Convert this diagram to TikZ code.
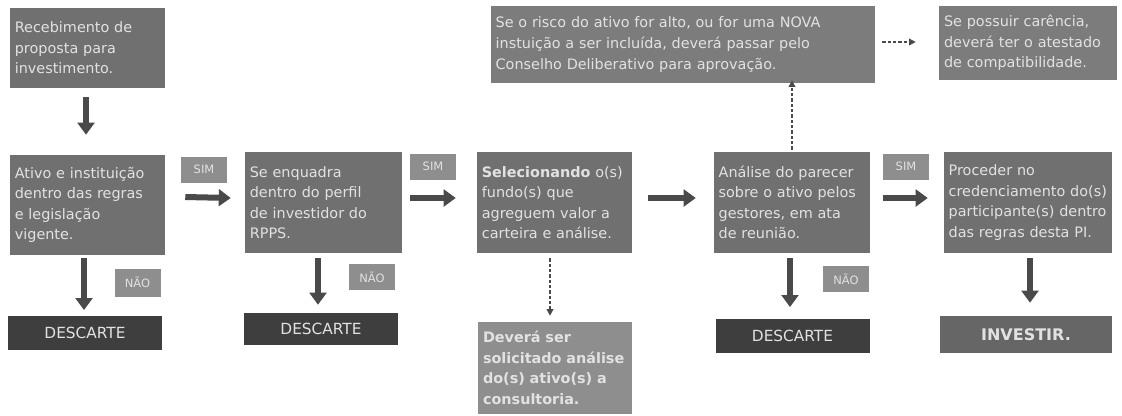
\documentclass[tikz,border=0pt]{standalone}
\usepackage{fontspec}
\setmainfont{DejaVu Sans}
\usetikzlibrary{arrows.meta,calc}
\definecolor{boxfill}{HTML}{707070}
\definecolor{topfill}{HTML}{7C7C7C}
\definecolor{lblfill}{HTML}{8E8E8E}
\definecolor{darkfill}{HTML}{3E3E3E}
\definecolor{invfill}{HTML}{666666}
\definecolor{txt}{HTML}{E2E2E2}
\definecolor{arr}{HTML}{4A4A4A}
\tikzset{
  box/.style={fill=boxfill, text=txt, align=left, inner xsep=3.5pt, inner ysep=2pt,
    font=\fontsize{10.8}{15.4}\selectfont, anchor=center},
  lbl/.style={fill=lblfill, text=txt, inner sep=0pt, font=\fontsize{8.6}{10}\selectfont,
    minimum width=34.5pt, minimum height=19.5pt},
  endbox/.style={fill=darkfill, text=txt, inner sep=0pt, font=\fontsize{11.5}{13}\selectfont,
    minimum width=115.5pt, minimum height=25pt},
  bigarrow/.style={draw=arr, line width=4.5pt, -{Triangle[width=12.5pt,length=9pt]}},
  dasharrow/.style={draw=arr, line width=1pt, dash pattern=on 2.5pt off 1.5pt, -{Triangle[width=5pt,length=5pt]}},
}
\begin{document}
\begin{tikzpicture}[x=0.75pt,y=-0.75pt]
\useasboundingbox (0,0) rectangle (1122,415);
% main boxes
\node[box, minimum width=116.25pt, minimum height=60pt, text width=109pt] (b1) at (87.5,48)
  {Recebimento de\\proposta para\\investimento.};
\node[box, minimum width=116.25pt, minimum height=75pt, text width=109pt] (b2) at (87.5,205)
  {Ativo e instituição\\dentro das regras\\e legislação\\vigente.};
\node[box, minimum width=117.75pt, minimum height=75.75pt, text width=110.5pt] (b3) at (323.5,202.5)
  {Se enquadra\\dentro do perfil\\de investidor do\\RPPS.};
\node[box, minimum width=116.25pt, minimum height=75.75pt, text width=109pt] (b4) at (554.5,202.5)
  {\textbf{Selecionando} o(s)\\fundo(s) que\\agreguem valor a\\carteira e análise.};
\node[box, minimum width=117pt, minimum height=75.75pt, text width=110pt] (b5) at (792,202.5)
  {Análise do parecer\\sobre o ativo pelos\\gestores, em ata\\de reunião.};
\node[box, minimum width=126pt, minimum height=75.75pt, text width=119pt] (b6) at (1028,202.5)
  {Proceder no\\credenciamento do(s)\\participante(s) dentro\\das regras desta PI.};
\node[box, fill=topfill, minimum width=288pt, minimum height=57.75pt, text width=281pt] (b7) at (683,44.5)
  {Se o risco do ativo for alto, ou for uma NOVA\\instuição a ser incluída, deverá passar pelo\\Conselho Deliberativo para aprovação.};
\node[box, fill=topfill, minimum width=133.5pt, minimum height=55.5pt, text width=126pt] (b8) at (1028,43)
  {Se possuir carência,\\deverá ter o atestado\\de compatibilidade.};
\node[box, fill=lblfill, minimum width=115.5pt, minimum height=69pt, text width=108pt] (b9) at (555,368)
  {\textbf{Deverá ser}\\\textbf{solicitado análise}\\\textbf{do(s) ativo(s) a}\\\textbf{consultoria.}};
% end boxes
\node[endbox] (d1) at (85,333) {DESCARTE};
\node[endbox, minimum height=24pt] (d2) at (321,329) {DESCARTE};
\node[endbox] (d3) at (792.5,336) {DESCARTE};
\node[endbox, fill=invfill, minimum width=129pt, minimum height=27.75pt, font=\fontsize{12}{13}\selectfont\bfseries] (inv) at (1026,334.5) {INVESTIR.};
% labels
\node[lbl] (s1) at (204,169.5) {SIM};
\node[lbl] (s2) at (433,166.5) {SIM};
\node[lbl] (s3) at (906,166.5) {SIM};
\node[lbl, minimum height=21pt] (n1) at (137.5,282.5) {NÃO};
\node[lbl] (n2) at (372,277) {NÃO};
\node[lbl] (n3) at (846,279) {NÃO};
% arrows
\draw[bigarrow] ($(b1.south)+(-1.5,9)$) -- ($(b2.north)+(-1.5,-20)$);
\draw[bigarrow] ($(b2.east)+(20,-8)$) -- ($(b3.west)+(-14,-4.5)$);
\draw[bigarrow] ($(b3.east)+(8,-4.5)$) -- ($(b4.west)+(-21,-4.5)$);
\draw[bigarrow] ($(b4.east)+(16,-4.5)$) -- ($(b5.west)+(-18,-4.5)$);
\draw[bigarrow] ($(b5.east)+(13,-4.5)$) -- ($(b6.west)+(-16,-4.5)$);
\draw[bigarrow] ($(b2.south)+(-3.5,3)$) -- ($(d1.north)+(-1,-6)$);
\draw[bigarrow] ($(b3.south)+(-5.5,5)$) -- ($(d2.north)+(-3,-8)$);
\draw[bigarrow] ($(b5.south)+(-2,5)$) -- ($(d3.north)+(-2.5,-12)$);
\draw[bigarrow] ($(b6.south)+(2,5)$) -- ($(inv.north)+(4,-13)$);
\draw[dasharrow] ($(b4.south)+(-4.5,5)$) -- ($(b9.north)+(-5,-6)$);
\draw[dasharrow] ($(b5.north)+(0,-2)$) -- ($(b7.south)+(109,-3)$);
\draw[dasharrow] ($(b7.east)+(7,-2.5)$) -- ($(b8.west)+(-23,-1)$);
\end{tikzpicture}
\end{document}
